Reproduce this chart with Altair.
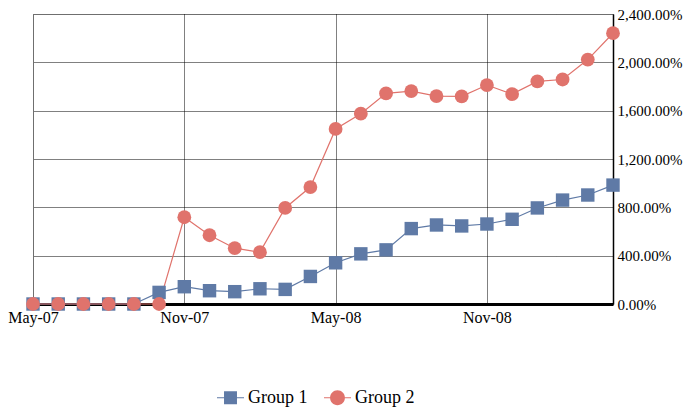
import altair as alt
import pandas as pd

months = ["May-07", "Jun-07", "Jul-07", "Aug-07", "Sep-07", "Oct-07", "Nov-07", "Dec-07",
          "Jan-08", "Feb-08", "Mar-08", "Apr-08", "May-08", "Jun-08", "Jul-08", "Aug-08",
          "Sep-08", "Oct-08", "Nov-08", "Dec-08", "Jan-09", "Feb-09", "Mar-09", "Apr-09"]
group1 = [0, 0, 0, 0, 0, 96, 143, 110, 102, 126, 121, 228, 341, 415, 448, 624,
          654, 646, 662, 701, 795, 860, 902, 984]
group2 = [0, 0, 0, 0, 0, 0, 718, 569, 462, 429, 795, 968, 1449, 1575, 1743, 1762,
          1721, 1718, 1812, 1737, 1842, 1858, 2023, 2241]
groups = ["Group 1", "Group 2"]
colors = ["#5f7aa6", "#e0736c"]
y_ticks = [0, 400, 800, 1200, 1600, 2000, 2400]
x_ticks = [0, 6, 12, 18]

rows = []
for i, m in enumerate(months):
    rows.append({"idx": i, "month": m, "group": "Group 1", "value": group1[i]})
for i, m in enumerate(months):
    rows.append({"idx": i, "month": m, "group": "Group 2", "value": group2[i]})
df = pd.DataFrame(rows)

FONT = "Liberation Serif"
label_expr = "[" + ",".join("'" + m + "'" for m in months) + "][datum.value]"

x = alt.X("idx:Q",
          scale=alt.Scale(domain=[0, len(months) - 1], nice=False, zero=False),
          axis=alt.Axis(values=x_ticks, labelExpr=label_expr, title=None,
                        grid=True, gridColor="#000000", gridDash=[1, 1], gridWidth=1,
                        domainColor="black", domainWidth=3, ticks=False,
                        labelFont=FONT, labelFontSize=16, labelColor="black",
                        labelPadding=5, labelFlush=False))
y = alt.Y("value:Q",
          scale=alt.Scale(domain=[0, 2400], nice=False),
          axis=alt.Axis(orient="right", values=y_ticks,
                        labelExpr="format(datum.value, ',.2f') + '%'", title=None,
                        grid=True, gridColor="#000000", gridDash=[1, 1], gridWidth=1,
                        domainColor="black", domainWidth=1.5, ticks=False,
                        labelFont=FONT, labelFontSize=15, labelColor="black",
                        labelPadding=4))

base = alt.Chart(df)
g1 = base.transform_filter(alt.datum.group == groups[0])
g2 = base.transform_filter(alt.datum.group == groups[1])

line1 = g1.mark_line(strokeWidth=1.2, color=colors[0]).encode(x=x, y=y)
line2 = g2.mark_line(strokeWidth=1.2, color=colors[1]).encode(x=x, y=y)
squares = g1.mark_point(shape="square", filled=True, size=180, opacity=1,
                        color=colors[0]).encode(x=x, y=y)
circles = g2.mark_point(shape="circle", filled=True, size=190, opacity=1,
                        color=colors[1]).encode(x=x, y=y)

shape_sq = "M-1,-0.045H1V0.045H-1Z M-0.48,-0.48H0.48V0.48H-0.48Z"
shape_ci = "M-1,-0.045H1V0.045H-1Z M-0.55,0A0.55,0.55 0 1,1 0.55,0A0.55,0.55 0 1,1 -0.55,0Z"

leg = alt.Legend(title=None, orient="none", direction="horizontal",
                 legendX=184, legendY=370,
                 symbolSize=729, symbolOpacity=1, symbolStrokeWidth=0,
                 labelFont=FONT, labelFontSize=18,
                 labelColor="black", columnPadding=16, labelOffset=4)

legend_layer = base.mark_point(filled=True, size=729, opacity=0).encode(
    x=x, y=y,
    fill=alt.Fill("group:N", scale=alt.Scale(domain=groups, range=colors), legend=leg),
    shape=alt.Shape("group:N", scale=alt.Scale(domain=groups, range=[shape_sq, shape_ci]),
                    legend=leg),
)

chart = alt.layer(line1, line2, squares, circles, legend_layer).properties(
    width=580, height=290,
    autosize=alt.AutoSizeParams(type="none"),
    padding={"left": 25, "top": 6, "right": 70, "bottom": 106},
).configure_view(stroke="black", strokeWidth=1.2).configure(background="white")

chart.save("out.html", embed_options={"renderer": "svg", "actions": False})
